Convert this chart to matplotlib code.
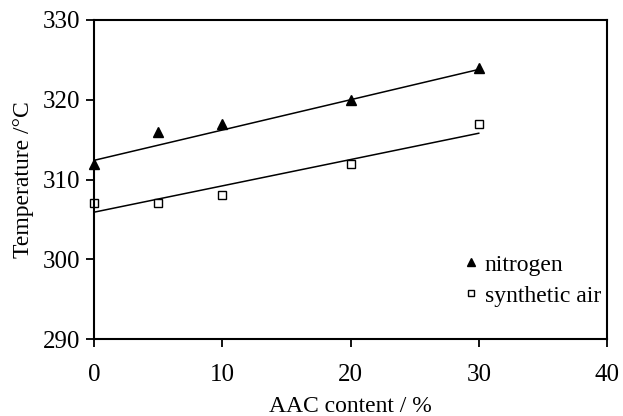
import numpy as np
import matplotlib
matplotlib.use("Agg")
import matplotlib.pyplot as plt

plt.rcParams['font.family'] = ['Liberation Serif', 'DejaVu Serif']

# AAC content (%) and decomposition temperatures (°C)
aac = [0, 5, 10, 20, 30]
t_nitrogen = [312, 316, 317, 320, 324]
t_air = [307, 307, 308, 312, 317]

# linear trend lines: (intercept, slope)
fit_nitrogen = (312.4, 0.38)
fit_air = (305.9, 0.33)

fig = plt.figure(figsize=(6.23, 4.16), dpi=100)
ax = fig.add_axes([94/623, 1 - 339/416, (607-94)/623, (339-20)/416])

xf = np.array([aac[0], aac[-1]])
ax.plot(xf, fit_nitrogen[0] + fit_nitrogen[1]*xf, color='black', lw=1.1)
ax.plot(xf, fit_air[0] + fit_air[1]*xf, color='black', lw=1.1)

ax.plot(aac, t_nitrogen, linestyle='none', marker='^', ms=7.5,
        color='black', label='nitrogen', clip_on=False)
ax.plot(aac, t_air, linestyle='none', marker='s', ms=5.5, mfc='white',
        mec='black', mew=1.0, label='synthetic air', clip_on=False)

ax.set_xlim(0, 40)
ax.set_ylim(290, 330)
ax.set_xticks([0, 10, 20, 30, 40])
ax.set_yticks([290, 300, 310, 320, 330])
ax.tick_params(direction='out', length=6, width=1.3, labelsize=18)
ax.tick_params(axis='x', pad=12)
ax.tick_params(axis='y', pad=4)
for s in ax.spines.values():
    s.set_linewidth(1.5)

ax.set_xlabel('AAC content / %', fontsize=17, labelpad=7)
ax.set_ylabel('Temperature /°C', fontsize=17, labelpad=6)

ax.legend(loc='lower right', bbox_to_anchor=(1.03, 0.035), frameon=False,
          fontsize=17, handlelength=0.6, handletextpad=0.3,
          labelspacing=0.4, markerscale=0.75)

fig.savefig('out.png', dpi=100)
